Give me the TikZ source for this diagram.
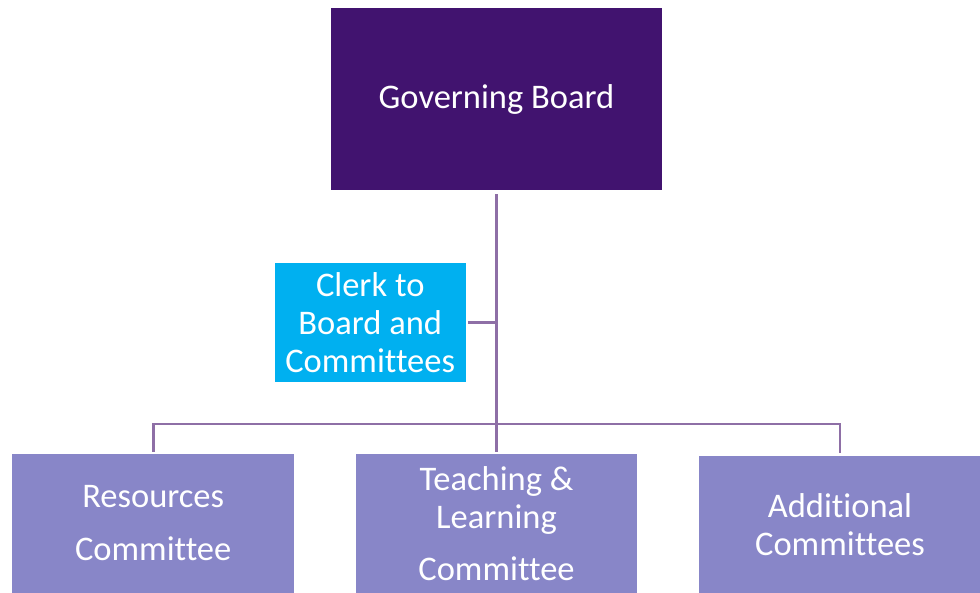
\documentclass[tikz,border=0pt]{standalone}
\usepackage{fontspec}
\setmainfont[Ligatures={NoCommon}]{Carlito}
\definecolor{gbcol}{HTML}{41136F}
\definecolor{clerkcol}{HTML}{00B0F0}
\definecolor{comcol}{HTML}{8886C8}
\definecolor{linecol}{HTML}{8E6FA6}
\begin{document}
\begin{tikzpicture}[x=1pt,y=-1pt,
  box/.style={rectangle,draw=none,inner sep=0pt,align=center,text=white,
    font=\fontsize{34.5}{38}\selectfont},
  conn/.style={draw=linecol,line width=2.8pt}]
\useasboundingbox (0,0) rectangle (980,592);
\clip (0,0) rectangle (980,592);
\node[box,fill=gbcol,minimum width=331pt,minimum height=182pt] (gb) at (496.5,99) {Governing Board};
\node[box,fill=clerkcol,minimum width=191pt,minimum height=119pt] (clerk) at (370.2,322.3) {Clerk to\\Board and\\Committees};
\node[box,fill=comcol,minimum width=281.5pt,minimum height=139pt] (res) at (153.2,523.5) {Resources\\[15pt]Committee};
\node[box,fill=comcol,minimum width=281pt,minimum height=139pt] (tl) at (496.5,523.5) {Teaching \&\\Learning\\[14pt]Committee};
\node[box,fill=comcol,minimum width=282pt,minimum height=138pt] (add) at (840,525) {Additional\\Committees};
\coordinate (bus) at (497,424);
\draw[conn] ([yshift=-4pt]gb.south) -- ([yshift=2pt]tl.north);
\draw[conn] ([xshift=2pt]clerk.east) -- (gb.south |- clerk.east);
\draw[conn] ([yshift=2pt]res.north) |- (bus);
\draw[conn] ([yshift=3pt]add.north) |- (bus);
\end{tikzpicture}
\end{document}
